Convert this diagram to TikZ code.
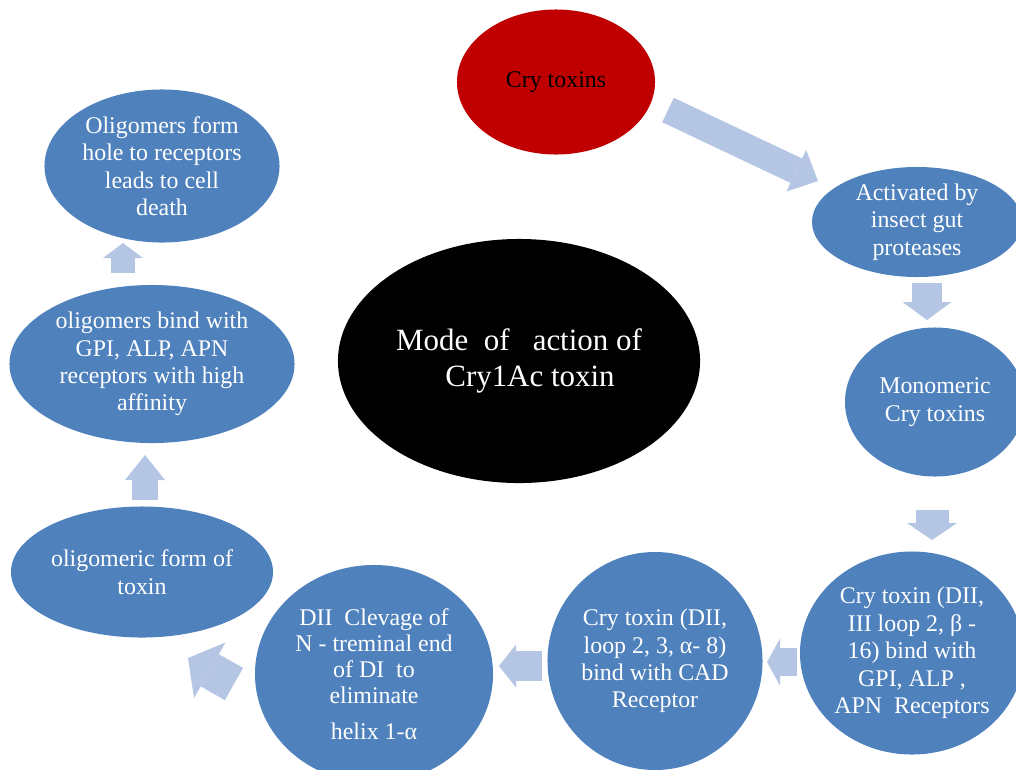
\documentclass[tikz,border=0pt]{standalone}
\usepackage{fontspec}
\setmainfont{Liberation Serif}
\usetikzlibrary{arrows.meta,shapes.geometric}
\definecolor{stageblue}{RGB}{79,129,189}
\definecolor{toxinred}{RGB}{192,0,0}
\definecolor{flowblue}{RGB}{180,198,228}
\tikzset{
  stage/.style={ellipse,fill=stageblue,text=white,align=center,inner sep=0pt,font=\fontsize{17}{19.5}\selectfont},
  flow/.style n args={3}{draw=flowblue,line width=#1,-{Triangle[width=#2,length=#3,line width=0pt]}}
}

\begin{document}
\begin{tikzpicture}[x=0.025cm,y=-0.025cm]
  \useasboundingbox (0,0) rectangle (1016,769);
  % stages of the cycle
  \node[stage,fill=toxinred,text=black,minimum width=4.95cm,minimum height=3.625cm] (cry) at (556,82) {Cry toxins};
  \node[stage,minimum width=5.25cm,minimum height=2.75cm] (activ) at (917,222) {Activated by\\insect gut\\proteases};
  \node[stage,minimum width=4.5cm,minimum height=3.725cm] (mono) at (935,402) {Monomeric\\Cry toxins};
  \node[stage,minimum width=5.6cm,minimum height=5.075cm] (bindgpi) at (912,653) {Cry toxin (DII,\\III loop 2, β -\\16) bind with\\GPI, ALP ,\\APN\ \ Receptors};
  \node[stage,minimum width=5.375cm,minimum height=5.45cm] (bindcad) at (655,661) {Cry toxin (DII,\\loop 2, 3, α- 8)\\bind with CAD\\Receptor};
  \node[stage,minimum width=5.95cm,minimum height=5.45cm,font=\fontsize{17}{18.5}\selectfont] (cleave) at (374,674) {DII\ \ Clevage of\\N - treminal end\\of DI\ \ to\\eliminate\\[7pt]helix 1-α};
  \node[stage,minimum width=6.55cm,minimum height=3.275cm] (oligo) at (142,572) {oligomeric form of\\toxin};
  \node[stage,minimum width=7.125cm,minimum height=3.95cm] (oligobind) at (152,364) {oligomers bind with\\GPI, ALP, APN\\receptors with high\\affinity};
  \node[stage,minimum width=5.875cm,minimum height=3.825cm] (hole) at (162,166) {Oligomers form\\hole to receptors\\leads to cell\\death};
  \node[ellipse,fill=black,text=white,align=center,inner sep=0pt,minimum width=9.05cm,minimum height=6.1cm,font=\fontsize{22}{25}\selectfont] (mode) at (519,361) {Mode\ \ of\ \ \ action\ of\\\hspace*{0.55cm}Cry1Ac toxin};
  % block arrows
  \coordinate (a1s) at (668,110); \coordinate (a1e) at (818,181);
  \coordinate (a2s) at (927,283); \coordinate (a2e) at (927,320);
  \coordinate (a3s) at (932,510); \coordinate (a3e) at (932,540);
  \coordinate (a4s) at (797,662); \coordinate (a4e) at (767,662);
  \coordinate (a5s) at (542,666); \coordinate (a5e) at (499,666);
  \coordinate (a6s) at (234,684); \coordinate (a6e) at (188,658);
  \coordinate (a7s) at (145,500); \coordinate (a7e) at (145,455);
  \coordinate (a8s) at (123,273); \coordinate (a8e) at (123,243);
  \draw[flow={0.675cm}{1.15cm}{0.6cm}] (a1s) -- (a1e);
  \draw[flow={0.75cm}{1.225cm}{0.45cm}] (a2s) -- (a2e);
  \draw[flow={0.825cm}{1.25cm}{0.425cm}] (a3s) -- (a3e);
  \draw[flow={0.7cm}{1.175cm}{0.325cm}] (a4s) -- (a4e);
  \draw[flow={0.75cm}{1.075cm}{0.425cm}] (a5s) -- (a5e);
  \draw[flow={0.925cm}{1.6cm}{0.625cm}] (a6s) -- (a6e);
  \draw[flow={0.625cm}{1cm}{0.625cm}] (a7s) -- (a7e);
  \draw[flow={0.575cm}{1cm}{0.375cm}] (a8s) -- (a8e);
\end{tikzpicture}
\end{document}
